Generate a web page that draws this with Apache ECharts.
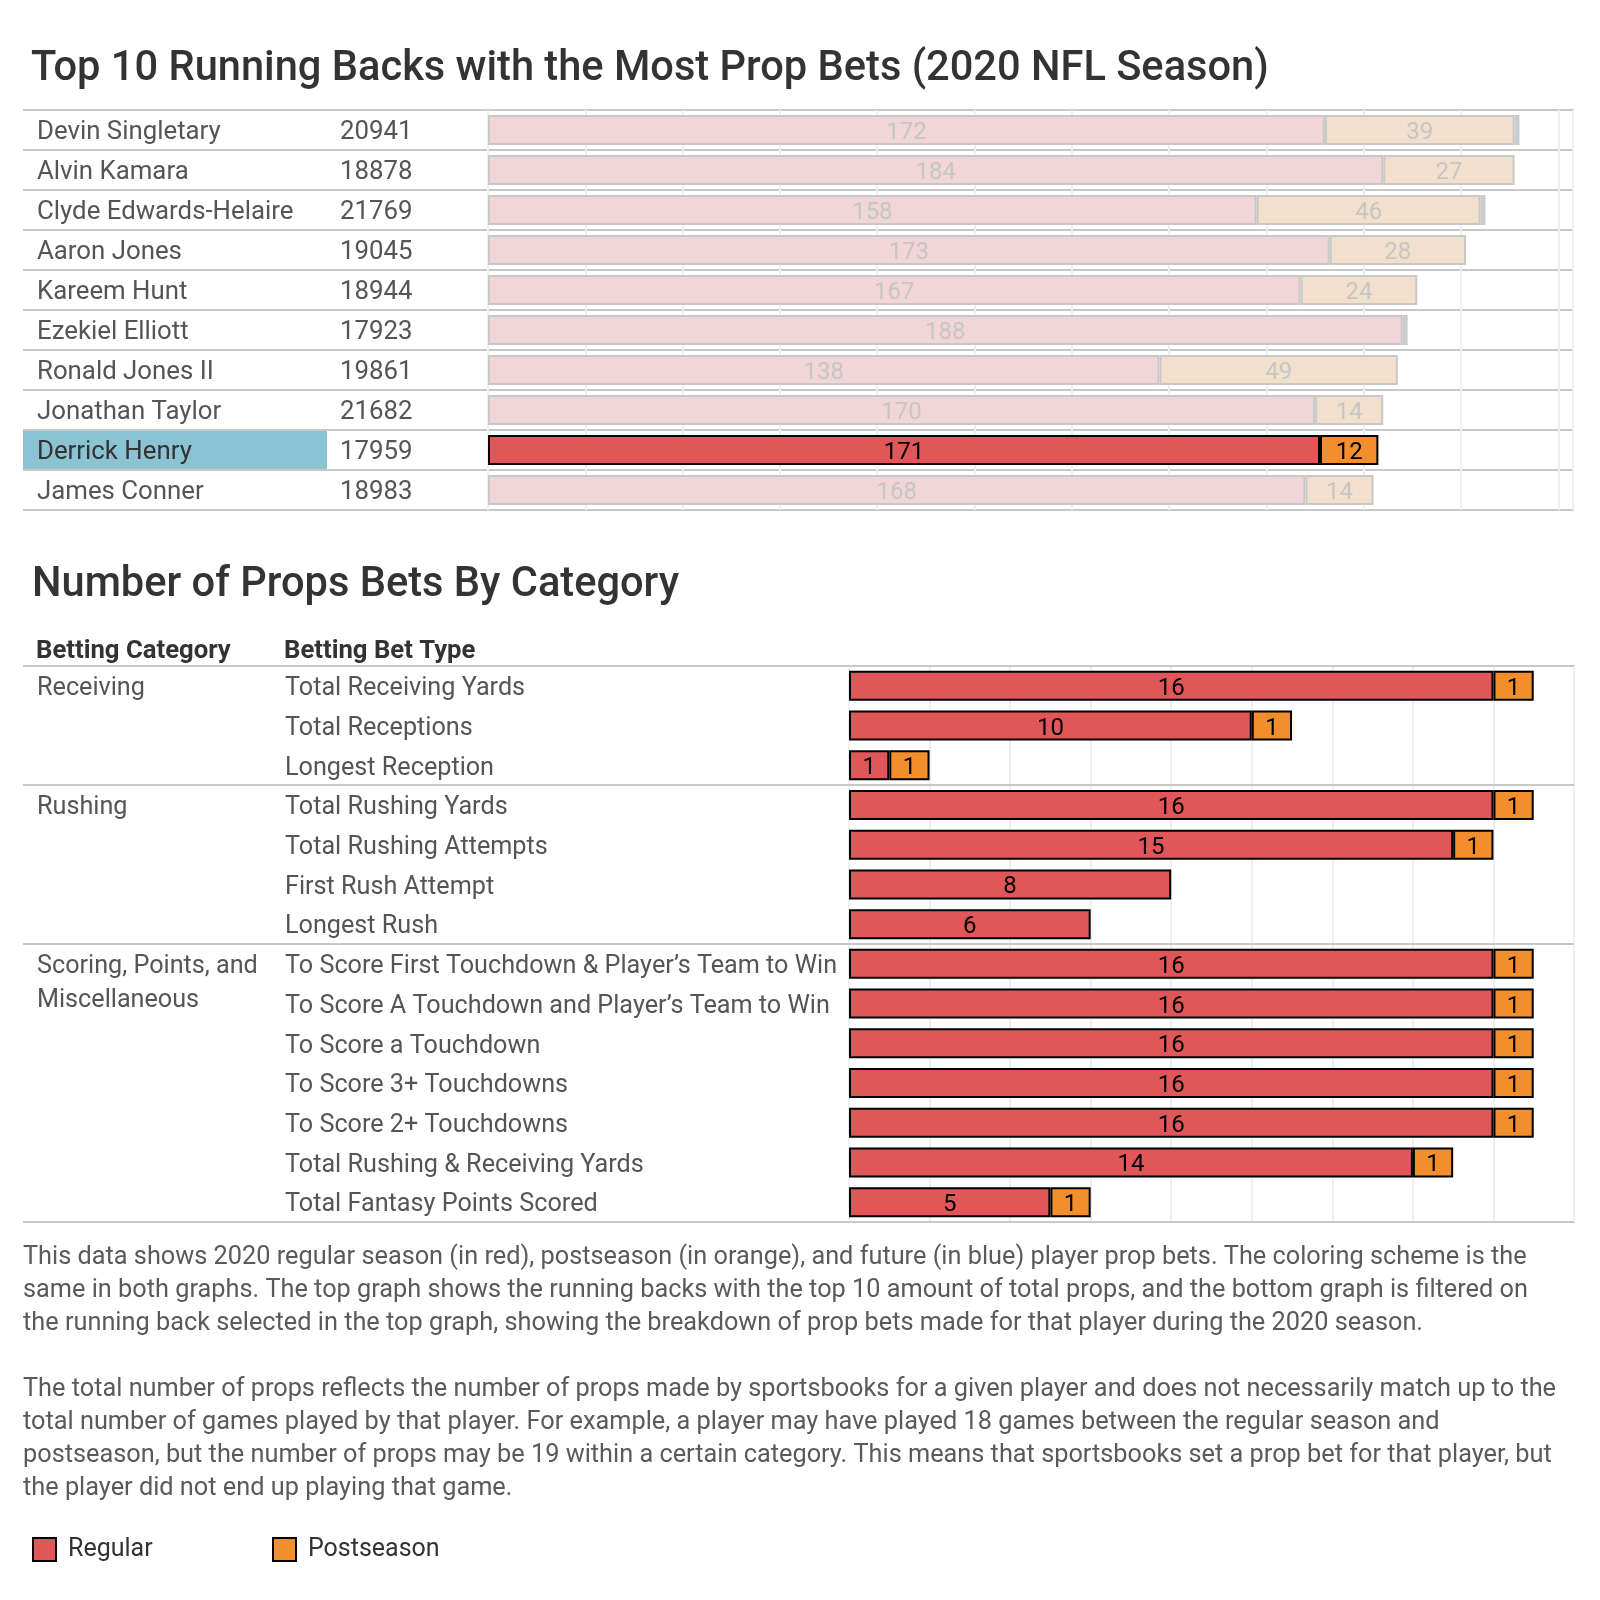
<!DOCTYPE html>
<html>
<head>
<meta charset="utf-8">
<script src="https://cdn.jsdelivr.net/npm/echarts@6/dist/echarts.min.js"></script>
<style>
html,body{margin:0;padding:0;background:#fff;}
#chart{width:1600px;height:1600px;}
</style>
</head>
<body>
<div id="chart"></div>
<script>
// ---------- DATA ----------
const players = ['Devin Singletary','Alvin Kamara','Clyde Edwards-Helaire','Aaron Jones','Kareem Hunt','Ezekiel Elliott','Ronald Jones II','Jonathan Taylor','Derrick Henry','James Conner'];
const playerIds = ['20941','18878','21769','19045','18944','17923','19861','21682','17959','18983'];
const regularProps = [172,184,158,173,167,188,138,170,171,168];
const postseasonProps = [39,27,46,28,24,null,49,14,12,14];
const futureProps = [1,null,1,null,null,1,null,null,null,null];
const selectedPlayer = 'Derrick Henry';

const betTypes = ['Total Receiving Yards','Total Receptions','Longest Reception','Total Rushing Yards','Total Rushing Attempts','First Rush Attempt','Longest Rush','To Score First Touchdown & Player\u2019s Team to Win','To Score A Touchdown and Player\u2019s Team to Win','To Score a Touchdown','To Score 3+ Touchdowns','To Score 2+ Touchdowns','Total Rushing & Receiving Yards','Total Fantasy Points Scored'];
const betCategories = ['Receiving','Receiving','Receiving','Rushing','Rushing','Rushing','Rushing','Scoring, Points, and\nMiscellaneous','Scoring, Points, and\nMiscellaneous','Scoring, Points, and\nMiscellaneous','Scoring, Points, and\nMiscellaneous','Scoring, Points, and\nMiscellaneous','Scoring, Points, and\nMiscellaneous','Scoring, Points, and\nMiscellaneous'];
const regularBets = [16,10,1,16,15,8,6,16,16,16,16,16,14,5];
const postseasonBets = [1,1,1,1,1,null,null,1,1,1,1,1,1,1];

const titleTop = 'Top 10 Running Backs with the Most Prop Bets (2020 NFL Season)';
const titleBottom = 'Number of Props Bets By Category';
const headerCategory = 'Betting Category';
const headerBetType = 'Betting Bet Type';
const descriptionLines = [
 'This data shows 2020 regular season (in red), postseason (in orange), and future (in blue) player prop bets. The coloring scheme is the',
 'same in both graphs. The top graph shows the running backs with the top 10 amount of total props, and the bottom graph is filtered on',
 'the running back selected in the top graph, showing the breakdown of prop bets made for that player during the 2020 season.',
 '',
 'The total number of props reflects the number of props made by sportsbooks for a given player and does not necessarily match up to the',
 'total number of games played by that player. For example, a player may have played 18 games between the regular season and',
 'postseason, but the number of props may be 19 within a certain category. This means that sportsbooks set a prop bet for that player, but',
 'the player did not end up playing that game.'
];

// ---------- STYLE ----------
const FONT = 'Roboto';
const RED = '#e15759', ORANGE = '#f28e2b', BLUE = '#4e79a7';
const FADE = {reg:'#f2d5d6', post:'#f3e0cc', fut:'#cbd8e2'};
const GRID_LINE = '#c8c8c8';

const chart = echarts.init(document.getElementById('chart'), null, {renderer:'canvas'});

function topData(values, fadeColor, hlColor) {
  return values.map((v, i) => {
    if (v == null) return null;
    const sel = players[i] === selectedPlayer;
    return {
      value: v,
      itemStyle: sel ? {color: hlColor, borderColor: '#000', borderWidth: 2}
                     : {color: fadeColor, borderColor: GRID_LINE, borderWidth: 2},
      label: {color: sel ? '#000' : '#c6c6c6'}
    };
  });
}

// group boundaries for the bottom table
const groupBounds = [0];
for (let i = 1; i < betCategories.length; i++) if (betCategories[i] !== betCategories[i-1]) groupBounds.push(i);
groupBounds.push(betCategories.length);

const barLabel = {show: true, position: 'inside', fontSize: 24, fontFamily: FONT, offset: [0, 3]};

const option = {
  animation: false,
  backgroundColor: '#ffffff',
  textStyle: {fontFamily: FONT},
  title: [
    {text: titleTop, left: 31, top: 45, padding: 0, textStyle: {fontFamily: FONT, fontSize: 41.6, fontWeight: 500, color: '#333', lineHeight: 50}},
    {text: titleBottom, left: 32, top: 561, padding: 0, textStyle: {fontFamily: FONT, fontSize: 41.6, fontWeight: 500, color: '#333', lineHeight: 50}},
    {text: headerCategory, left: 36, top: 637, padding: 0, textStyle: {fontFamily: FONT, fontSize: 25.7, fontWeight: 'bold', color: '#333', lineHeight: 30}},
    {text: headerBetType, left: 284, top: 637, padding: 0, textStyle: {fontFamily: FONT, fontSize: 25.7, fontWeight: 'bold', color: '#333', lineHeight: 30}},
    {text: descriptionLines.join('\n'), left: 23, top: 1241, padding: 0, textStyle: {fontFamily: FONT, fontSize: 25.3, fontWeight: 'normal', color: '#5a5a5a', lineHeight: 33}}
  ],
  legend: [
    {data: ['Regular'], left: 32, top: 1537, padding: 0, itemWidth: 23, itemHeight: 23, icon: 'rect', selectedMode: false,
     textStyle: {fontFamily: FONT, fontSize: 25, color: '#333', padding: [0,0,0,7]}},
    {data: ['Postseason'], left: 272, top: 1537, padding: 0, itemWidth: 23, itemHeight: 23, icon: 'rect', selectedMode: false,
     textStyle: {fontFamily: FONT, fontSize: 25, color: '#333', padding: [0,0,0,7]}}
  ],
  grid: [
    {left: 23, top: 110, width: 1550, height: 400},
    {left: 488, top: 110, width: 1085, height: 400, show: true, borderColor: GRID_LINE, borderWidth: 2, backgroundColor: 'rgba(0,0,0,0)'},
    {left: 23, top: 666, width: 1551, height: 556},
    {left: 849, top: 666, width: 725, height: 556, show: true, borderColor: GRID_LINE, borderWidth: 2, backgroundColor: 'rgba(0,0,0,0)'}
  ],
  xAxis: [
    {gridIndex: 0, type: 'value', min: 0, max: 1, show: false},
    {gridIndex: 1, type: 'value', min: 0, max: 223, interval: 20,
     axisLine: {show: false}, axisTick: {show: false}, axisLabel: {show: false},
     splitLine: {show: true, lineStyle: {color: '#efefef', width: 2}}},
    {gridIndex: 2, type: 'value', min: 0, max: 1, show: false},
    {gridIndex: 3, type: 'value', min: 0, max: 18, interval: 2,
     axisLine: {show: false}, axisTick: {show: false}, axisLabel: {show: false},
     splitLine: {show: true, lineStyle: {color: '#efefef', width: 2}}}
  ],
  yAxis: [
    // 0: top frame row lines
    {gridIndex: 0, type: 'value', min: 0, max: players.length, interval: 1, inverse: true, position: 'left',
     axisLine: {show: false}, axisTick: {show: false}, axisLabel: {show: false},
     splitLine: {show: true, lineStyle: {color: GRID_LINE, width: 2}}},
    // 1: top table labels
    {gridIndex: 0, type: 'category', data: players, inverse: true, position: 'left',
     axisLine: {show: false}, axisTick: {show: false}, splitLine: {show: false},
     axisLabel: {show: true, inside: true, margin: 0, interval: 0,
       formatter: function (value, index) {
         const key = value === selectedPlayer ? 'h' : 'n';
         return '{' + key + '|' + value + '}{v|' + playerIds[index] + '}';
       },
       rich: {
         n: {width: 290, padding: [6,0,0,14], fontSize: 25.8, color: '#555', fontFamily: FONT},
         h: {width: 290, height: 32, padding: [6,0,0,14], fontSize: 25.8, color: '#333', backgroundColor: '#8bc3d2', fontFamily: FONT},
         v: {padding: [6,0,0,13], fontSize: 25.8, color: '#555', fontFamily: FONT}
       }}},
    // 2: top bars
    {gridIndex: 1, type: 'category', data: players, inverse: true, show: false},
    // 3: bottom frame group lines
    {gridIndex: 2, type: 'value', min: 0, max: betTypes.length, inverse: true, position: 'left', show: false},
    // 4: bet type labels
    {gridIndex: 2, type: 'category', data: betTypes, inverse: true, position: 'left',
     axisLine: {show: false}, axisTick: {show: false}, splitLine: {show: false},
     axisLabel: {show: true, inside: true, margin: 262, interval: 0,
       formatter: function (value) { return '{t|' + value + '}'; },
       rich: {t: {padding: [6,0,0,0], fontSize: 25.2, color: '#555', fontFamily: FONT}}}},
    // 5: category labels
    {gridIndex: 2, type: 'category', data: betTypes, inverse: true, position: 'left',
     axisLine: {show: false}, axisTick: {show: false}, splitLine: {show: false},
     axisLabel: {show: true, inside: true, margin: 14, interval: 0, verticalAlign: 'top',
       formatter: function (value, index) {
         if (index > 0 && betCategories[index] === betCategories[index-1]) return '';
         return betCategories[index].split('\n').map((l, k) => '{' + (k === 0 ? 'a' : 'b') + '|' + l + '}').join('\n');
       },
       rich: {
         a: {lineHeight: 6, fontSize: 25.2, color: '#555', fontFamily: FONT},
         b: {lineHeight: 62, fontSize: 25.2, color: '#555', fontFamily: FONT}
       }}},
    // 6: bottom bars
    {gridIndex: 3, type: 'category', data: betTypes, inverse: true, show: false}
  ],
  series: [
    {type: 'bar', name: 'Regular (top)', xAxisIndex: 1, yAxisIndex: 2, stack: 'top', barWidth: 30,
     label: barLabel, data: topData(regularProps, FADE.reg, RED)},
    {type: 'bar', name: 'Postseason (top)', xAxisIndex: 1, yAxisIndex: 2, stack: 'top', barWidth: 30,
     label: barLabel, data: topData(postseasonProps, FADE.post, ORANGE)},
    {type: 'bar', name: 'Future (top)', xAxisIndex: 1, yAxisIndex: 2, stack: 'top', barWidth: 30,
     label: {show: false}, data: topData(futureProps, FADE.fut, BLUE)},
    {type: 'bar', name: 'Regular', xAxisIndex: 3, yAxisIndex: 6, stack: 'bottom', barWidth: 30,
     itemStyle: {color: RED, borderColor: '#000', borderWidth: 2},
     label: Object.assign({color: '#000'}, barLabel),
     data: regularBets},
    {type: 'bar', name: 'Postseason', xAxisIndex: 3, yAxisIndex: 6, stack: 'bottom', barWidth: 30,
     itemStyle: {color: ORANGE, borderColor: '#000', borderWidth: 2},
     label: Object.assign({color: '#000'}, barLabel),
     data: postseasonBets},
    {type: 'line', name: 'groupLines', xAxisIndex: 2, yAxisIndex: 3, data: [], silent: true, symbol: 'none',
     markLine: {silent: true, symbol: ['none','none'], label: {show: false},
       lineStyle: {color: GRID_LINE, width: 2, type: 'solid'},
       emphasis: {disabled: true},
       data: groupBounds.map(b => ({yAxis: b}))}}
  ]
};
chart.setOption(option);
</script>
</body>
</html>
